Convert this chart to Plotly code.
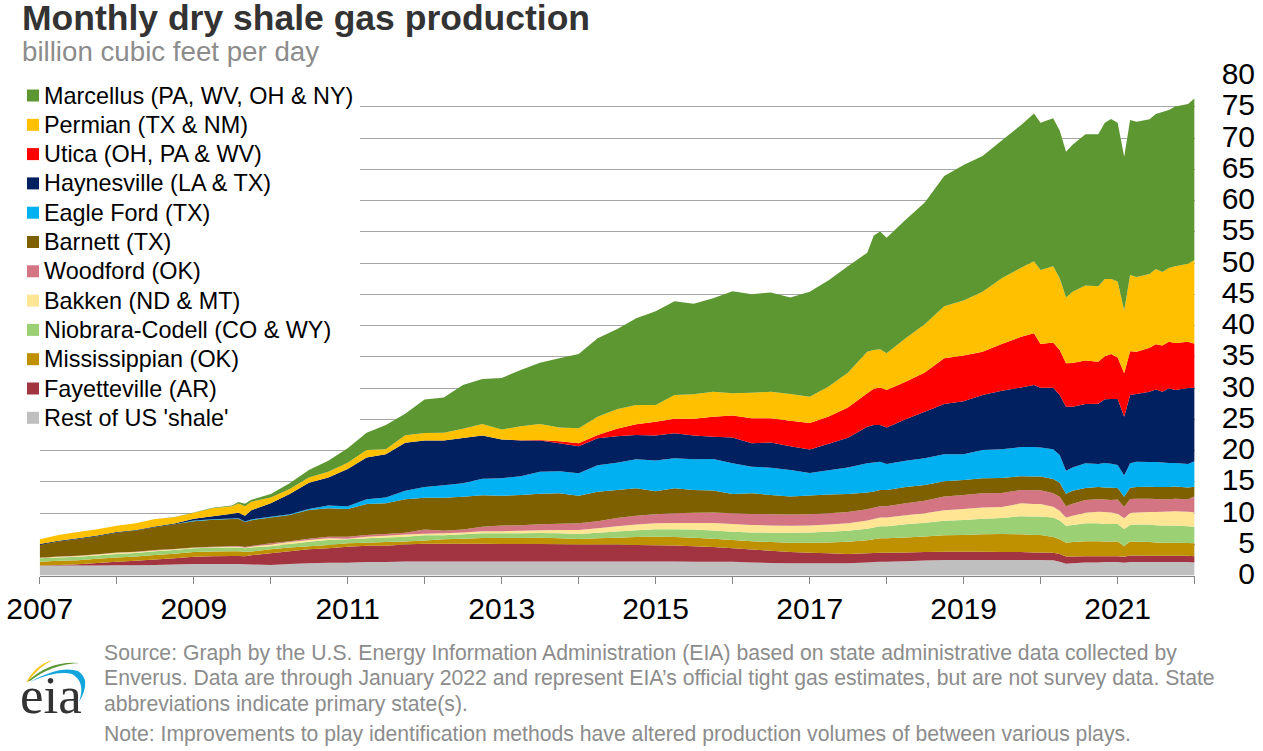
import plotly.graph_objects as go

W, H = 1263, 751
X0, X1 = 39.7, 1194.6   # plot left / right, px
Y0, Y80 = 575.5, 75.5   # value 0 / value 80, px

dates = ["2007-01","2007-04","2007-07","2007-10","2008-01","2008-04","2008-07","2008-10",
         "2009-01","2009-04","2009-07","2009-08","2009-09","2009-10",
         "2010-01","2010-04","2010-07","2010-10","2011-01","2011-04","2011-07","2011-10",
         "2012-01","2012-04","2012-07","2012-10","2013-01","2013-04","2013-07","2013-10",
         "2014-01","2014-04","2014-07","2014-10","2015-01","2015-04","2015-07","2015-10",
         "2016-01","2016-04","2016-07","2016-10",
         "2017-01","2017-04","2017-07","2017-10","2017-11","2017-12",
         "2018-01","2018-04","2018-07","2018-10",
         "2019-01","2019-04","2019-07","2019-10","2019-12",
         "2020-01","2020-03","2020-04","2020-05","2020-06","2020-08","2020-10","2020-11","2020-12",
         "2021-01","2021-02","2021-03","2021-04","2021-06","2021-07","2021-08","2021-09","2021-10","2021-12",
         "2022-01"]

rest = [1.57,1.6,1.6,1.62, 1.63,1.65,1.7,1.75, 1.84,1.84,1.84,1.84,1.8,1.75,
        1.7,1.85,1.95,2.05, 2.05,2.15,2.15,2.25, 2.25,2.25,2.25,2.25, 2.25,2.25,2.25,2.25,
        2.25,2.25,2.25,2.25, 2.25,2.25,2.2,2.2, 2.2,2.1,2.0,1.95,
        1.95,1.95,1.95,2.1,2.15,2.2, 2.2,2.3,2.4,2.5, 2.5,2.5,2.5,2.5,2.5,
        2.5,2.45,2.2,1.9,1.95,2.1,2.1,2.15,2.15,
        2.15,2.05,2.15,2.15,2.15,2.15,2.15,2.15,2.15,2.15, 2.1]
fayetteville = [.03,.1,.2,.4, .57,.7,.85,1.0, 1.16,1.25,1.3,1.3,1.3,1.5,
        1.85,2.05,2.25,2.3, 2.55,2.6,2.6,2.7, 2.85,2.85,2.85,2.85, 2.8,2.8,2.8,2.75,
        2.7,2.7,2.7,2.65, 2.6,2.55,2.5,2.35, 2.15,2.05,1.95,1.8,
        1.7,1.6,1.5,1.45,1.45,1.45, 1.45,1.4,1.35,1.3, 1.3,1.3,1.25,1.25,1.2,
        1.2,1.2,1.25,1.15,1.1,1.0,1.0,.95,.95,
        .95,.95,1.05,1.05,1.0,1.0,1.0,1.0,1.0,1.0, 1.0]
mississippian = [.6,.65,.65,.65, .7,.7,.75,.75, .75,.75,.75,.75,.7,.6,
        .65,.6,.5,.55, .55,.5,.6,.5, .5,.7,.8,.9, .95,.95,1.0,.95,
        .9,1.0,1.1,1.25, 1.35,1.35,1.35,1.35, 1.35,1.35,1.4,1.5,
        1.6,1.75,1.95,2.1,2.2,2.3, 2.3,2.4,2.5,2.65, 2.7,2.8,2.9,2.85,2.8,
        2.8,2.5,2.35,2.2,2.3,2.4,2.4,2.35,2.35,
        2.35,1.7,2.25,2.2,2.2,2.15,2.1,2.1,2.1,2.05, 2.05]
niobrara = [.55,.55,.55,.55, .55,.55,.6,.6, .6,.6,.6,.6,.55,.65,
        .5,.55,.7,.8, .65,.7,.75,.75, .85,.65,.7,.75, .75,.75,.75,.8,
        .8,.9,1.0,1.1, 1.2,1.25,1.3,1.3, 1.3,1.4,1.5,1.6,
        1.65,1.7,1.75,1.85,1.9,1.95, 1.95,2.1,2.2,2.3, 2.4,2.5,2.55,2.9,2.95,
        2.95,3.15,3.0,2.7,2.75,2.85,2.85,2.8,2.8,
        2.8,2.75,2.65,2.75,2.8,2.75,2.75,2.75,2.75,2.7, 2.65]
bakken = [.08,.1,.12,.15, .2,.15,.12,.1, .1,.1,.1,.12,.1,.12,
        .25,.3,.3,.25, .1,.25,.25,.35, .25,.3,.3,.35, .35,.4,.45,.55,
        .65,.7,.85,.9, .95,1.0,1.05,1.2, 1.25,1.2,1.15,1.1,
        1.1,1.15,1.2,1.3,1.35,1.4, 1.4,1.45,1.5,1.7, 1.75,1.8,1.75,2.05,2.0,
        2.0,1.7,1.55,1.35,1.45,1.7,1.85,1.9,1.85,
        1.65,1.7,1.9,1.95,2.0,2.1,2.2,2.25,2.3,2.3, 2.3]
woodford = [.02,.03,.03,.03, .05,.05,.05,.05, .05,.08,.1,.12,.1,.12,
        .2,.15,.2,.25, .3,.3,.3,.3, .65,.4,.45,.7, .9,.9,.95,1.0,
        1.05,1.15,1.3,1.4, 1.45,1.55,1.65,1.7, 1.7,1.75,1.8,1.8,
        1.8,1.8,1.8,1.8,1.8,1.8, 1.8,1.9,2.0,2.2, 2.25,2.25,2.25,2.15,2.2,
        2.2,2.15,2.25,1.8,1.95,2.05,2.0,2.0,2.0,
        2.25,1.8,2.25,2.2,2.15,2.1,2.0,1.95,2.0,2.0, 2.6]
barnett = [2.05,2.4,2.7,2.9, 3.15,3.4,3.65,3.95, 4.2,4.3,4.35,4.35,4.0,4.1,
        4.15,4.2,4.6,4.55, 4.45,4.95,4.9,5.35, 5.1,5.3,5.25,5.05, 4.75,4.85,4.9,4.85,
        4.4,4.7,4.5,4.4, 3.7,4.0,3.65,3.5, 3.1,3.3,3.1,2.9,
        3.0,3.0,2.9,2.7,2.6,2.6, 2.6,2.6,2.55,2.45, 2.4,2.4,2.4,2.2,2.2,
        2.2,2.3,2.25,2.0,2.05,1.9,1.95,1.95,1.95,
        1.85,1.65,1.8,1.85,1.9,1.9,1.95,1.95,1.95,1.9, 1.5]
eagle_ford = [0,0,0,0, 0,0,.01,.02, .1,.1,.1,.1,.1,.12,
        .1,.1,.15,.45, .45,.75,.95,1.35, 1.7,2.0,2.15,2.65, 2.8,3.0,3.5,3.55,
        3.6,4.25,4.35,4.65, 4.9,4.8,4.9,5.05, 4.9,4.25,4.35,4.25,
        3.6,3.9,4.25,4.65,4.65,4.5, 4.15,4.2,4.25,4.3, 4.1,4.55,4.6,4.65,4.7,
        4.65,4.75,4.45,3.65,3.75,3.95,3.7,3.9,3.85,
        3.7,3.4,3.9,4.05,3.95,4.0,3.95,3.85,3.75,3.75, 4.1]
haynesville = [.15,.12,.1,.1, .1,.1,.1,.1, .3,.45,.75,.85,.9,1.5,
        2.15,3.25,4.2,4.5, 5.95,6.7,6.9,7.7, 7.45,7.15,7.25,6.9, 6.2,5.7,5.0,4.45,
        4.35,4.3,4.25,3.9, 4.0,4.0,3.8,3.55, 4.15,3.75,4.05,3.8,
        3.75,4.25,4.75,5.85,6.0,5.9, 5.85,6.65,7.45,8.05, 8.5,8.8,9.35,9.55,9.95,
        9.55,9.85,9.6,10.25,9.7,9.5,9.65,10.2,10.35,
        10.55,9.4,10.95,10.85,11.25,11.6,11.3,11.95,11.7,12.15, 11.75]
utica = [0,0,0,0, 0,0,0,0, 0,0,0,0,0,0,
        0,0,0,0, 0,0,0,0, 0,0,0,0, .01,.03,.1,.35,
        .45,.55,1.2,1.7, 2.2,2.35,2.7,3.2, 3.5,4.0,3.85,4.05,
        4.25,4.35,4.85,5.35,5.8,6.0, 6.0,6.0,6.3,7.3, 7.3,6.9,7.5,8.1,8.25,
        7.0,7.25,7.2,6.95,7.0,6.95,6.7,6.9,7.2,
        6.65,6.95,7.0,6.75,7.05,7.25,7.4,7.45,7.5,7.4, 7.05]
permian = [.75,.95,1.0,1.0, 1.0,1.05,1.2,1.0, .95,1.3,1.2,1.5,1.55,1.35,
        .95,.8,.85,.9, 1.0,1.2,.8,1.2, 1.2,1.25,1.5,1.85, 1.6,2.27,2.55,2.2,
        2.4,2.9,3.1,3.1, 2.7,3.8,3.9,4.0, 3.55,4.1,4.25,4.3,
        4.2,4.8,5.55,6.65,6.2,6.1, 5.85,6.95,7.7,8.35, 8.8,9.6,10.5,11.05,11.55,
        11.85,12.2,11.45,10.55,11.4,12.0,12.1,12.35,12.0,
        12.15,10.05,12.2,11.95,11.8,12.05,11.75,11.8,12.3,12.5, 13.4]
marcellus = [0,0,0,0, .02,.02,.03,.03, .05,.08,.1,.25,.4,.3,
        .55,.9,1.2,1.75, 2.3,2.75,3.9,3.45, 5.35,5.65,7.0,7.2, 8.25,9.0,9.8,11.05,
        11.9,12.55,12.8,13.85, 15.0,15.0,14.5,14.95, 16.35,15.75,15.9,15.45,
        16.8,17.0,17.05,15.85,18.3,18.85, 18.5,18.95,19.5,20.8, 21.7,21.7,22.05,22.85,23.6,
        23.55,23.65,23.65,23.3,23.5,24.2,24.3,25.0,25.6,
        25.4,24.6,24.8,24.85,24.75,24.8,25.6,25.3,25.55,25.55, 25.85]

bottom_to_top = [
    ("Rest of US 'shale'", rest, "#BFBFBF"),
    ("Fayetteville (AR)", fayetteville, "#A23340"),
    ("Mississippian (OK)", mississippian, "#BF9000"),
    ("Niobrara-Codell (CO & WY)", niobrara, "#9BD174"),
    ("Bakken (ND & MT)", bakken, "#FFE594"),
    ("Woodford (OK)", woodford, "#D37583"),
    ("Barnett (TX)", barnett, "#7F6000"),
    ("Eagle Ford (TX)", eagle_ford, "#00B0F0"),
    ("Haynesville (LA & TX)", haynesville, "#002060"),
    ("Utica (OH, PA & WV)", utica, "#FF0000"),
    ("Permian (TX & NM)", permian, "#FFC000"),
    ("Marcellus (PA, WV, OH & NY)", marcellus, "#5D9732"),
]

title_text = "Monthly dry shale gas production"
subtitle_text = "billion cubic feet per day"
source_lines = [
    "Source: Graph by the U.S. Energy Information Administration (EIA) based on state administrative data collected by",
    "Enverus. Data are through January 2022 and represent EIA\u2019s official tight gas estimates, but are not survey data. State",
    "abbreviations indicate primary state(s).",
]
note_line = "Note: Improvements to play identification methods have altered production volumes of between various plays."

SANS = "Liberation Sans, Arial, sans-serif"
def px(x): return x / W
def py(y): return 1 - y / H

fig = go.Figure()
for name, vals, col in bottom_to_top:
    assert len(vals) == len(dates), name
    fig.add_trace(go.Scatter(x=dates, y=vals, name=name, mode="none", stackgroup="one",
                             fillcolor=col, showlegend=False, hoverinfo="x+y+name"))

shapes, ann = [], []
def rect(x0, y0, x1, y1, col):
    shapes.append(dict(type="rect", xref="paper", yref="paper", x0=px(x0), x1=px(x1),
                       y0=py(y0), y1=py(y1), fillcolor=col, line_width=0, layer="above"))
def text(x, y, s, size, col, bold=False, family=SANS):
    ann.append(dict(xref="paper", yref="paper", x=px(x), y=py(y), text=f"<b>{s}</b>" if bold else s,
                    showarrow=False, xanchor="left", yanchor="middle", align="left", xshift=0,
                    borderpad=0, font=dict(family=family, size=size, color=col)))

# legend panel
rect(26, 83, 360, 436, "#FFFFFF")
for i, (name, vals, col) in enumerate(reversed(bottom_to_top)):
    yc = 95.5 + i * 29.3
    rect(27, yc - 6, 39, yc + 6, col)
    text(43, yc, name, 23.4, "#000000")

# title and subtitle share one text block, so their boxes cannot collide
text(21, 32.5,
     f'<span style="font-size:35.5px;color:#333333"><b>{title_text}</b></span><br>'
     f'<span style="font-size:27.7px;color:#8C8C8C">{subtitle_text}</span>',
     23.7, "#8C8C8C")
for y, s in zip([652.5, 678, 703.5], source_lines):
    text(102.5, y, s, 21.2, "#8C8C8C")
text(102.5, 733.5, note_line, 21.2, "#8C8C8C")

# eia logo
def pth(pts):
    cmds = []
    for c in pts:
        if len(c) == 1:
            cmds.append(c[0])
        else:
            nums = " ".join(f"{px(c[i])},{py(c[i+1])}" for i in range(1, len(c), 2))
            cmds.append(f"{c[0]}{nums}")
    return " ".join(cmds)
def swoosh(pts, col):
    shapes.append(dict(type="path", xref="paper", yref="paper", path=pth(pts),
                       fillcolor=col, line_width=0, layer="above"))
swoosh([("M",26.5,682),("Q",36,664,53,660),("Q",38,667,28,682),("Z",)], "#F7C821")
swoosh([("M",28,681),("Q",50,660,80,663),("Q",52,664,30,681),("Z",)], "#5D9732")
swoosh([("M",30,682),("Q",60,665,78,671),("Q",92,680,79,702),("Q",86,682,72,674),("Q",56,670,30,682),("Z",)], "#12A5DB")
text(19, 695, "eia", 53, "#333333", family="Liberation Serif, serif")

fig.update_layout(
    width=W, height=H, margin=dict(l=0, r=0, t=0, b=0),
    paper_bgcolor="#FFFFFF", plot_bgcolor="#FFFFFF",
    font=dict(family=SANS, color="#000000"), showlegend=False,
    shapes=shapes, annotations=ann,
    xaxis=dict(type="date", domain=[px(X0), px(X1)], range=["2007-01-01", "2022-01-01"],
               automargin=False,
               tick0="2007-01-01", dtick="M24", tickformat="%Y", ticks="outside", ticklen=7,
               tickcolor="#868686", tickwidth=1, showline=True, linecolor="#868686", linewidth=1,
               showgrid=False, zeroline=False, tickfont=dict(size=30, color="#000000"),
               ticklabelstandoff=-1,
               minor=dict(dtick="M12", ticks="outside", ticklen=7, tickcolor="#868686", showgrid=False)),
    yaxis=dict(domain=[py(Y0), py(Y80)], range=[0, 80], dtick=5, side="left", anchor="free",
               automargin=False, ticklabelshift=-2,
               position=px(1255), ticks="", showline=False, zeroline=False, showgrid=True,
               gridcolor="#A6A6A6", gridwidth=1, tickfont=dict(size=30, color="#000000")),
)
fig.write_html("out.html", config={"displayModeBar": False},
               post_script="document.body.style.margin='0';")
